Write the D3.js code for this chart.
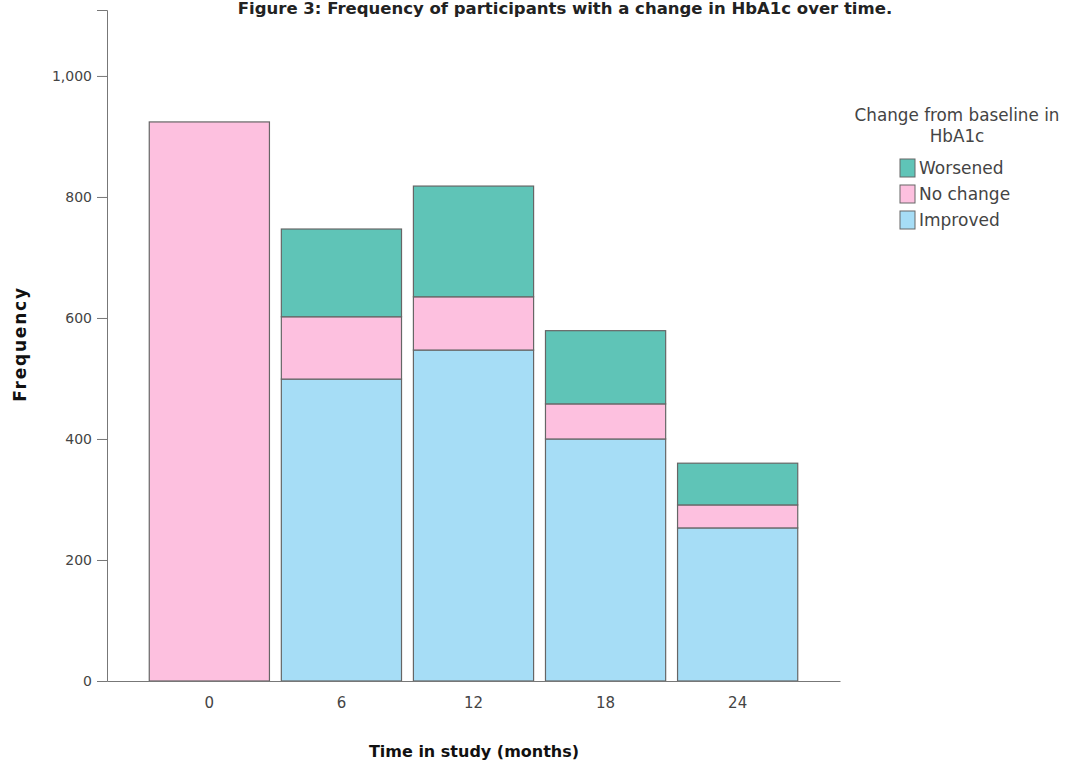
<!DOCTYPE html>
<html><head><meta charset="utf-8">
<script src="https://cdn.jsdelivr.net/npm/d3@7"></script>
<style>body{margin:0;background:#fff}svg{display:block}</style>
</head><body>
<script>
const categories = ["0","6","12","18","24"];
const improved  = [0, 499, 547, 400, 253];
const noChange  = [924, 103, 88, 58, 38];
const worsened  = [0, 145, 183, 121, 69];
const seriesNames = ["Improved","No change","Worsened"];
const legendOrder = ["Worsened","No change","Improved"];
const yTicks = [0,200,400,600,800,1000];
const colors = {"Improved":"#a6ddf6","No change":"#fdc0df","Worsened":"#5fc4b7"};

const W=1069,H=767;
const svg=d3.select("body").append("svg").attr("width",W).attr("height",H);
const rows = categories.map((c,i)=>({cat:c,"Improved":improved[i],"No change":noChange[i],"Worsened":worsened[i]}));
const stack = d3.stack().keys(seriesNames)(rows);

const x=d3.scaleBand().domain(categories).range([107,840]).paddingInner(0.09).paddingOuter(0.32);
const y=d3.scaleLinear().domain([0,1109]).range([681,10]);
const bf="'DejaVu Sans', Verdana, sans-serif";

// title
svg.append("text").attr("x",565).attr("y",14).attr("text-anchor","middle")
  .attr("font-family",bf).attr("font-weight","bold").attr("font-size",16.5)
  .attr("fill","#222").text("Figure 3: Frequency of participants with a change in HbA1c over time.");

// bars
svg.append("g").selectAll("g").data(stack).join("g").attr("fill",d=>colors[d.key])
  .selectAll("rect").data(d=>d.filter(s=>s[1]-s[0]>0)).join("rect")
  .attr("x",d=>x(d.data.cat)).attr("width",x.bandwidth())
  .attr("y",d=>y(d[1])).attr("height",d=>y(d[0])-y(d[1]))
  .attr("stroke","#666").attr("stroke-width",1.2);

// y axis
const ya=svg.append("g").attr("transform","translate(107,0)")
  .call(d3.axisLeft(y).tickValues(yTicks).tickFormat(d3.format(",")).tickSize(10).tickPadding(5));
ya.select(".domain").attr("stroke","#777");
ya.selectAll(".tick line").attr("stroke","#777");
ya.selectAll("text").attr("font-family",bf).attr("font-size",14).attr("fill","#444");

// x axis
const xa=svg.append("g").attr("transform","translate(0,681)")
  .call(d3.axisBottom(x).tickSize(0).tickPadding(16).tickSizeOuter(0));
xa.select(".domain").attr("stroke","#777");
xa.selectAll("text").attr("font-family",bf).attr("font-size",15).attr("fill","#444");

// axis labels
svg.append("text").attr("x",474).attr("y",757).attr("text-anchor","middle")
  .attr("font-family",bf).attr("font-weight","bold").attr("font-size",16)
  .attr("fill","#111").text("Time in study (months)");
svg.append("text").attr("transform","translate(26,344) rotate(-90)").attr("text-anchor","middle")
  .attr("font-family",bf).attr("font-weight","bold").attr("font-size",17).attr("letter-spacing",1.8)
  .attr("fill","#111").text("Frequency");

// legend
svg.append("text").attr("x",957).attr("y",121).attr("text-anchor","middle").attr("font-family",bf)
  .attr("font-size",16.8).attr("fill","#444").text("Change from baseline in");
svg.append("text").attr("x",957).attr("y",142).attr("text-anchor","middle").attr("font-family",bf)
  .attr("font-size",16.8).attr("fill","#444").text("HbA1c");
const lg=svg.append("g").selectAll("g").data(legendOrder).join("g")
  .attr("transform",(d,i)=>`translate(900,${159+i*26})`);
lg.append("rect").attr("width",15).attr("height",18).attr("fill",d=>colors[d]).attr("stroke","#666");
lg.append("text").attr("x",19).attr("y",15).attr("font-family",bf).attr("font-size",17).attr("fill","#444").text(d=>d);
</script>
</body></html>
